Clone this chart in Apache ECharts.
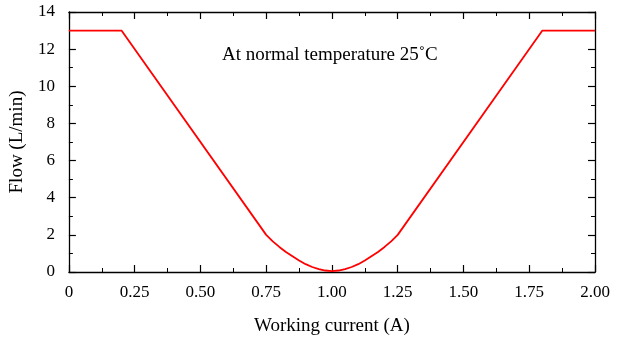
<!DOCTYPE html>
<html><head><meta charset="utf-8">
<script src="https://cdn.jsdelivr.net/npm/echarts@6/dist/echarts.min.js"></script>
<style>html,body{margin:0;padding:0;background:#fff}#c{width:617px;height:341px}</style>
</head><body><div id="c"></div>
<script>
var currentA = [0, 0.2, 0.75, 0.775, 0.8, 0.825, 0.85, 0.875, 0.9, 0.925, 0.95, 0.975, 1.0, 1.025, 1.05, 1.075, 1.1, 1.125, 1.15, 1.175, 1.2, 1.225, 1.25, 1.8, 2.0];
var flowLmin = [13, 13, 2, 1.65, 1.35, 1.08, 0.85, 0.62, 0.42, 0.27, 0.16, 0.08, 0.05, 0.08, 0.16, 0.27, 0.42, 0.62, 0.85, 1.08, 1.35, 1.65, 2, 13, 13];
var xTicks = [0, 0.25, 0.5, 0.75, 1.0, 1.25, 1.5, 1.75, 2.0];
var yTicks = [0, 2, 4, 6, 8, 10, 12, 14];
var annotation = 'At normal temperature 25\u02DAC';

var font = 'Liberation Serif, Times New Roman, serif';
var chart = echarts.init(document.getElementById('c'));
var data = currentA.map(function(x, i){ return [x, flowLmin[i]]; });
function axisBase(show){
  return {
    axisLine:{show:true,onZero:false,lineStyle:{color:'#000',width:1.3}},
    axisTick:{show:true,inside:true,length:7,lineStyle:{color:'#000',width:1.2}},
    minorTick:{show:true,splitNumber:2,length:4,lineStyle:{color:'#000',width:1}},
    splitLine:{show:false},
    axisLabel:{show:show,color:'#000',fontFamily:font,fontSize:17}
  };
}
var xb = axisBase(true), xt = axisBase(false), yl = axisBase(true), yr = axisBase(false);
var option = {
  animation:false,
  grid:{left:68,right:22,top:12,bottom:67},
  xAxis:[
    Object.assign(xb,{type:'value',min:0,max:2,interval:0.25,position:'bottom',
      name:'Working current (A)',nameLocation:'middle',nameGap:45,
      nameTextStyle:{color:'#000',fontFamily:font,fontSize:19},
      axisLabel:Object.assign(xb.axisLabel,{margin:12,formatter:function(v){return v===0?'0':v.toFixed(2);}})}),
    Object.assign(xt,{type:'value',min:0,max:2,interval:0.25,position:'top'})
  ],
  yAxis:[
    Object.assign(yl,{type:'value',min:0,max:14,interval:2,position:'left',
      name:'Flow (L/min)',nameLocation:'middle',nameGap:38,
      nameTextStyle:{color:'#000',fontFamily:font,fontSize:19},
      axisLabel:Object.assign(yl.axisLabel,{margin:14})}),
    Object.assign(yr,{type:'value',min:0,max:14,interval:2,position:'right'})
  ],
  graphic:[{type:'text',left:222,top:46,style:{text:annotation,fill:'#000',font:'19px '+font}}],
  series:[{type:'line',data:data,showSymbol:false,smooth:false,
    lineStyle:{color:'#ff0000',width:1.8},xAxisIndex:0,yAxisIndex:0}]
};
chart.setOption(option);
</script></body></html>
